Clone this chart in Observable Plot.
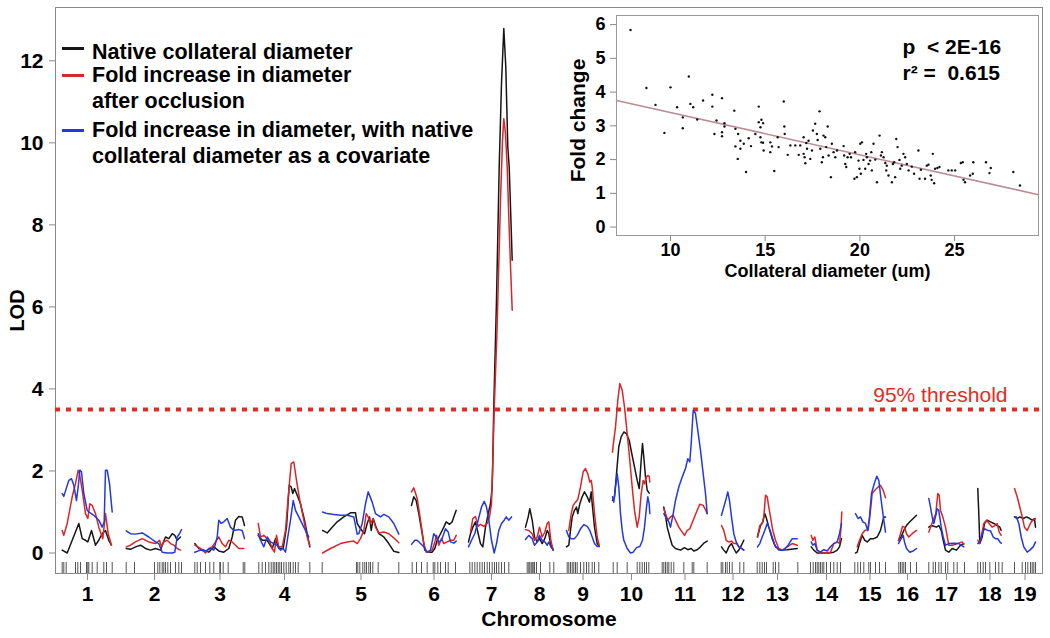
<!DOCTYPE html>
<html><head><meta charset="utf-8">
<script src="https://cdn.jsdelivr.net/npm/d3@7"></script>
<script src="https://cdn.jsdelivr.net/npm/@observablehq/plot@0.6"></script>
<style>
body{margin:0;background:#fff;}
#wrap{position:relative;width:1050px;height:638px;font-family:"Liberation Sans",Arial,sans-serif;}
#main,#inset{position:absolute;left:0;top:0;}
#inset{left:558px;top:8px;}
.entry{position:absolute;left:62px;font-weight:bold;font-size:21.5px;line-height:26px;color:#000;}
.sw{position:absolute;left:0;width:22px;height:3px;}
.lab{position:absolute;left:30px;top:0;white-space:nowrap;}
</style></head><body>
<div id="wrap"><div id="main"></div><div id="inset"></div><div id="legend"></div></div>
<script>
// ---------- main chart data ----------
const chrLabels = ["1","2","3","4","5","6","7","8","9","10","11","12","13","14","15","16","17","18","19"];
const chrStart = [7,71,139,203,267,356,413,470,511,557,607,666,702,755,799,843,873,922,959];
const chrEnd   = [57,127,190,255,344,401,459,498,544,595,652,689,742,787,830,861,909,947,980];
const genomeExtent = [0, 987];
const lodDomain = [-0.5, 13.3];
const lodTicks = [0, 2, 4, 6, 8, 10, 12];
const threshold = 3.5;
const thresholdLabel = "95% threshold";
const seriesNames = ["Native collateral diameter", "Fold increase in diameter after occlusion", "Fold increase in diameter, with native collateral diameter as a covariate"];
const seriesColors = ["#161616", "#d8262a", "#2438e0"];
const legendLines = [["Native collateral diameter"], ["Fold increase in diameter", "after occlusion"], ["Fold increase in diameter, with native", "collateral diameter as a covariate"]];

// marker positions (cumulative cM)
const markerPos = [6.7,8.3,10.7,20,22.3,25,31,32.3,33.3,36.7,41.7,48.3,51,56.7,
70.7,79,99,102.3,104.3,106.7,108.3,110,112.3,115,120,123.3,126,
139.3,141.7,145,150,154.3,158.3,164.3,165,167.7,172.7,187.7,189.3,
203.3,206.7,210,213.3,215.7,217.7,219.3,221,222.7,224.3,226,228.3,230.7,233.3,235,237.7,240,242.7,254.3,
266.7,301,302.3,304.3,307.3,309.3,311,313.3,315,317.3,322.7,343.3,
356.7,361,366,371.7,377.7,379.3,382.3,385,390,392.7,400,
414.3,416.7,419.3,421.7,424.3,426.7,429,431.7,434,436.7,439,441,443.3,446,449,453.3,
471.7,473.3,474.3,475.7,476.7,477.7,479,481,485,494.3,498.3,
511.7,513.3,515,516.7,518.3,520,521.7,525,528.3,531,533.3,536.7,539,543.3,
557.7,561.7,571.7,581.7,584.3,586.7,589,591,593.3,
606.7,608.3,610,611.7,613.3,615.7,618.3,628.3,636.7,638.3,651.7,
665.7,667.3,670,671.7,674,676.7,684.3,688.3,
701.7,704.3,706.7,709,711,717.7,720,723.3,742.3,
755,757.7,760,761.7,763.3,765,766.7,768.3,771,775,778.3,781.7,785,
799.3,802.3,805,808.3,813.3,815,820,824,830,
843.3,845,846.7,848.3,850,855,861,
873.3,877.7,880,883.3,885.7,890,892.3,898.3,901.7,909,
922.3,925,927.7,930,934.3,940,943.3,946.7,
959,966.7,970,972.3,975,976.7,978.3,980];

// LOD curves: per chromosome, flat list of position, LOD pairs
const nativeCurve = [
[6.7,.07,11.7,0,16.7,.31,23.3,.72,26.7,.35,30,.31,32.3,.27,36,.55,40,.19,43.3,.31,46.7,.47,50,.55,53.3,.31,56,.19],
[70.7,.11,75,.09,80,.15,85,.19,90,.11,95,.07,100,.11,105,.07,107.3,.23,110,.39,113.3,.35,116.7,.47,119.3,.43,121.7,.31,125,.39],
[139.3,.23,143.3,.11,148.3,.07,153.3,.02,158.3,.15,163.3,.05,168.3,.02,173.3,.11,176.7,.39,180,.8,183.3,.89,186.7,.88,189,.67],
[202.7,.43,206.7,.31,211.7,.31,216.7,.11,220,.35,223.3,.11,227.7,.11,231,.63,233.7,1.65,235.7,1.61,237.3,1.45,239,1.57,241.7,1.41,245,1.2,249,.8,252.3,.39,254.3,.15],
[267,.55,271.7,.49,276.7,.63,281.7,.76,288.3,.88,295,.98,300,.98,301.7,.72,305,.59,309,.47,311.7,.72,314,.88,315.7,.55,317.7,.84,320,.67,323.3,.47,328.3,.39,333.3,.23,338.3,.04,343.3,.01],
[356,1.16,358.3,1.37,360.7,1.28,363.3,.96,366.7,.47,369.3,.07,372.7,.02,376.7,.02,379.3,.11,381.7,.31,385,.47,388.3,.63,390.7,.76,394,.7,396.7,.76,398.3,.88,400.7,1.04],
[413,.27,415,.47,417.3,.63,420,.76,422.7,.47,425,.23,427.3,.15,430,.63,432.7,.96,435,1.2,436.7,1.61,437.5,2.5,438.2,3.5,441,6.17,443.7,9.41,446,11.45,448.3,12.79,450.3,11.85,452.3,9.9,453.7,9.41,455,8.44,456.7,7.14],
[470,.63,472.7,.88,474.3,1.08,476.7,.8,479,.39,481.7,.27,484,.35,486.7,.23,489.3,.35,491.7,.55,493.3,.47,495,.23,497.7,.07],
[511,.15,513.3,.19,515,.55,516.7,.88,519,1.04,521,1.12,522.3,.96,524.3,1.2,526.7,1.37,529,1.49,531.7,1.37,534,1.24,535.7,1.49,536.7,1.2,539,.63,541.7,.23,543.7,.16],
[557,1.28,559,1.37,561,1.93,563.3,2.59,565.7,2.83,568.3,2.95,571,2.91,573.7,2.75,576.3,2.42,579,2.1,581.7,1.77,583.7,1.57,585.7,2.26,587,2.67,588.3,2.34,590,1.85,591.7,1.53,593.7,1.46],
[608.3,1.12,610,.92,611.7,.63,614.3,.39,616.7,.19,620,.11,625,.07,629,.13,632.3,.08,635.7,.11,638.3,.05,641.7,.08,645,.15,648.3,.24,651.7,.29],
[666,.15,668.3,.07,670.7,0,673.3,.15,676,.23,678.3,.11,680.7,0,683.3,.07,686,.19,688.3,.31],
[702,.39,705,.67,707.3,.76,709.3,.96,711,.84,713.3,.63,716.7,.35,720,.15,725,.07,731.7,.08,741.7,.11],
[755.7,.15,758.3,.07,761.7,0,766.7,0,773.3,0,778.3,.02,781.7,.07,784,.15,786,.35],
[800,0,801.7,.02,804,.23,806.7,.43,809.3,.31,811.7,.27,815,.35,818.3,.35,821.7,.39,825,.55,828.3,.88,830,.88],
[843,.3,845.7,.4,848.3,.55,851,.67,854.3,.76,857.7,.84,861,.92],
[873.3,.63,875.7,.67,878.3,.65,881,.63,883.3,.67,885.7,.55,887.7,.31,890,.07,893.3,.02,896.7,.11,901,.07,905,.19,908.3,.23],
[922.3,1.57,923.3,.96,924.3,.23,926.7,.39,929,.72,931.7,.8,935,.76,938.3,.72,941.7,.67,944.3,.63,945.7,.55],
[959,.88,961.7,.84,964.3,.88,967.7,.84,971,.88,974.3,.84,976.7,.8,979,.84,980,.63]
];
const foldCurve = [
[6.7,.55,8.3,.43,11.7,.72,16.7,1.37,20,1.69,22.7,2.02,24,1.93,26.7,1.53,30,.96,32.3,.84,34.3,1.2,36.7,1.16,40,.96,43.3,.63,47.3,.35,50,.96,52.7,.47,56,.19],
[70.7,.15,75,.19,80,.27,86.7,.35,93.3,.27,100,.23,104,.31,106,.15,108.3,.27,111.7,.31,115,.23,118.3,.19,121.7,.11,125,.07],
[139.3,.19,145,.11,150,0,153.3,.11,156.7,.15,160,.27,163.3,.39,166.7,.23,170,.15,173.3,.31,176.7,.27,180,.19,183.3,.11,188.3,.11],
[202.7,.72,205,.39,208.3,.43,211.7,.35,214.3,.27,216.7,.11,219,.02,221,.43,223.3,.15,226.7,.15,230,.55,233.3,1.53,235.7,2.18,238.3,2.22,241,1.77,244.3,1.28,248.3,.8,251.7,.39,254.3,.19],
[267,0,275,.11,285,.23,291.7,.27,298.3,.29,301.7,.23,305,.35,308.3,.55,310.7,.96,312.7,.88,315,.72,317.7,.84,320,.63,323.3,.49,328.3,.51,333.3,.47,338.3,.37,343.3,.25],
[356,1.49,358.3,1.59,361.7,1.33,365,.8,368.3,.23,370.7,.02,373.3,.02,376.7,.07,379.3,.27,381,.43,383.3,.19,386,.35,388.3,.23,391.7,.27,395,.31,398.3,.31,400.7,.43],
[415,.51,417.3,.84,420,.89,422.7,.65,425,.7,428.3,.65,431.7,.72,434,.88,436,1.2,437.3,2.2,438.7,3.5,441.5,5.4,445,8.6,447,10.06,448.3,10.59,450,10.22,451.7,9.41,453.3,8.2,455,7,456.7,5.92],
[470,.57,473.3,.55,476.7,.47,479,.31,481.7,.39,484,.63,486.7,.39,489.3,.51,491.7,.72,493.3,.76,495.3,.31,497.7,.07],
[513.3,.55,515.7,.96,517.7,1.16,520,1.24,522.3,1.3,525,1.61,527.7,1.98,530,2.06,532.3,1.93,534.3,1.73,535.7,1.77,536.7,1.61,539,.96,541.7,.39,543.7,.19],
[557,2.46,557.7,2.63,560,3.07,562.3,3.72,564.3,4.13,566.7,3.97,569,3.56,571.7,2.91,574.3,2.26,576.7,1.61,579,1.04,581.7,.63,583.7,.88,585.7,1.45,587.7,1.77,589,1.69,590.7,1.85,592.3,1.89,593.7,1.87,594.3,1.73],
[608.3,1.08,610,.96,612.3,.8,615,.88,617.7,.92,620,.8,623.3,.63,626.7,.51,629,.43,631.7,.55,634.3,.59,637.7,.8,641,1,644.3,1.19,647.7,1.16,650.3,1.04,651.7,.96],
[666,.67,668.3,.55,670.7,.31,673.3,.27,676,.29,678.3,.23,680.7,.24,683.3,.15,686,.11,688.3,.07],
[702,.39,704.3,.67,706.7,.72,708.3,.88,710,1.41,711.7,1.37,713.3,1.12,715,.88,717.3,.55,720,.31,723.3,.11,726.7,.07,731.7,.15,736.7,.23,741.7,.19],
[755.7,.43,757.3,.31,759.3,.39,761.7,.07,765,0,770,0,775,.02,778.3,.23,781.7,.27,784,.23,785.3,.55,786.3,1],
[801.7,.15,804,.31,806.7,.47,809.3,.55,812.7,.57,815,1.04,816.7,1.45,819.3,1.53,822.7,1.61,825,1.65,827.7,1.53,830,1.35],
[843,.31,845,.47,847,.65,849,.63,851,.47,853.3,.39,856.7,.47,861,.55],
[873.3,.51,875.7,.67,878.3,.84,880.3,.96,882.3,1.45,883.7,1.41,885,1.04,887.3,.88,890,.63,893.3,.19,896.7,.19,900,.21,903.3,.24,906.7,.27,908.3,.21],
[922.3,.31,924,.23,925.7,.39,928.3,.72,931,.8,933.7,.72,936.7,.63,939.3,.67,941.7,.72,943.7,.51,945.7,.43],
[959,1.57,961.7,1.37,964.3,1.12,966.7,.88,969,.63,971.7,.55,974,.67,975.7,.76,977.7,.8,980,.84]
];
const covarCurve = [
[6.7,1.45,8.3,1.38,13.3,1.77,16,1.81,18.3,1.65,21,1.28,22.7,1.61,24.3,2.02,26,1.98,28.3,1.45,31.7,1.04,33.3,1,38.3,.92,43.3,.8,46.7,.63,48.7,.76,50,2.02,51.7,2.02,54,1.69,56.7,1],
[70.7,.54,75,.47,80,.46,86.7,.49,93.3,.39,100,.27,103.3,.23,106.7,.02,111.7,0,116.7,0,119.3,.02,121.7,.39,124,.47,126,.57],
[139.3,.02,145,.07,150,.05,155,.11,158.3,.07,161.7,.39,163.3,.8,165.7,.72,168.3,.76,171.7,.84,175,.63,178.3,.55,183.3,.57,186.7,.55,189,.35],
[202.7,.47,205,.31,208.3,.15,211.7,.39,215,.27,218.3,.23,221.7,.19,225,.07,227.7,.11,230,.02,232.3,.39,235,.8,237.7,1.28,240,1.04,243.3,.88,248.3,.63,253.3,.39],
[267,1,271.7,.96,278.3,.94,285,.92,291.7,.92,298.3,.88,301.7,.46,303.3,.47,306.7,.72,310,1.2,312.7,1.49,316.7,1.24,320,.96,325,.88,328.3,.94,333.3,.88,338.3,.72,343.3,.46],
[356,.21,359.3,.31,361.7,.31,365,.23,368.3,.15,371.7,.02,375,.07,378.3,.47,380.7,.39,383.3,.27,386,.31,390,.59,392.7,.51,395,.27,398.3,.24,400.7,.29],
[413,.15,416,.31,419.3,.47,422.7,.8,426,1.12,428.7,1.26,431,1.12,433.3,.8,436,.31,438.7,0,441,.23,443.3,.55,446,.72,448.7,.8,450.7,.88,453.3,.8,456,.88],
[470,.33,473.3,.43,476.7,.35,479,.19,481.7,.27,484,.43,486.7,.31,489.3,.27,491.7,.19,493.3,.27,495.3,.15,497.7,.07],
[511,.55,513.3,.39,515.7,.35,519,.35,521.7,.43,525,.59,528.3,.69,531.7,.65,534.3,.55,536.7,.39,539,.23,541.7,.16,543.7,.16],
[557,1.37,558.3,1.24,560,1.61,561.7,1.93,563.3,1.61,565,.96,566.7,.55,568.3,.31,571.7,.11,575,0,577.7,.02,581,.13,584.3,.16,587,.31,589,.63,591,1.12,592.3,1.37,593.7,1.2,594.3,.96],
[608.3,.96,611,.84,613.3,.76,615,.63,617.7,.96,620,1.28,623.3,1.61,626.7,1.85,630,2.06,632.3,2.3,634.3,2.22,635.7,2.67,637.7,3.48,640,3.4,642.3,2.99,645,2.5,647.7,1.93,650,1.45,651.7,.96],
[666,.92,668.3,1.12,670.7,1.33,672.3,1.49,674,1.28,676,.88,678.3,.47,680.7,.27,683.3,.15,686,.11,688.3,.07],
[702,.15,704.3,.23,706.7,.39,709.3,.55,711.7,.72,714,.59,716.7,.39,719.3,.19,723.3,.07,728.3,.07,732.7,.19,736.7,.35,741.7,.35],
[755.7,.27,757.3,.19,759.3,.23,761.7,.07,765,.02,768.3,.08,771.7,.05,775,.15,778.3,.23,781.7,.27,784,.47,786,.72],
[800,.96,802.7,.84,805,.88,807.3,.76,810,.72,812.3,.55,814,.88,816,1.45,818.7,1.69,821.3,1.87,823.3,1.77,825.7,1.28,828.3,.8,830,.51],
[843,.23,845.7,.35,847.7,.43,849,.27,851,.11,854.3,.02,857.7,.05,861,.11],
[873.3,1.33,875,1.12,876.7,.88,878.3,.72,880,.88,881.7,1.08,883.3,1.04,885.7,.63,887.7,.39,890,.19,893.3,.23,898.3,.24,903.3,.23,908.3,.15],
[922.3,.23,924.3,.27,926.7,.47,929,.59,932.3,.55,935,.54,937.7,.39,940,.35,942.3,.35,944.3,.27,945.7,.24],
[959,.88,961,.88,963.3,.72,965.7,.39,968.3,.15,971.7,.02,974.3,.07,977.7,.15,980,.27]
];

// ---------- inset data ----------
const diameter = [7.89,8.73,9.21,9.68,10.0,10.35,10.65,10.65,10.97,11.05,11.2,11.41,11.72,12.21,12.21,12.32,12.43,12.72,12.72,12.72,12.85,12.85,13.37,13.43,13.43,13.57,13.55,13.69,13.69,13.87,13.99,14.13,14.25,14.48,14.66,14.66,14.75,14.75,14.8,14.8,14.89,14.89,14.92,15.27,15.27,15.36,15.48,15.66,15.71,15.98,16.01,16.03,16.19,16.33,16.59,16.77,16.85,17.03,17.03,17.08,17.12,17.17,17.21,17.29,17.38,17.47,17.52,17.64,17.73,17.77,17.87,17.91,17.99,18.05,18.08,18.17,18.22,18.3,18.35,18.47,18.52,18.61,18.7,18.79,19.14,19.17,19.23,19.28,19.35,19.46,19.53,19.71,19.75,19.84,19.93,19.98,20.02,20.05,20.11,20.19,20.28,20.33,20.37,20.46,20.54,20.6,20.63,20.72,20.81,20.9,21.04,21.11,21.16,21.25,21.34,21.39,21.42,21.51,21.69,21.74,21.81,21.86,21.92,21.99,22.09,22.13,22.21,22.3,22.39,22.48,22.57,22.74,22.86,23.09,23.15,23.22,23.44,23.53,23.62,23.74,23.79,23.85,23.92,23.97,24.09,24.2,24.67,24.85,25.03,25.33,25.43,25.47,25.55,25.82,25.99,25.96,26.66,26.84,26.91,28.1,28.45];
const foldChange = [5.84,4.12,3.62,2.79,4.14,3.55,3.25,2.93,4.46,3.65,3.55,3.19,3.75,3.92,3.57,2.76,3.16,3.82,2.81,2.69,3.08,2.98,3.45,2.91,2.39,2.76,2.02,2.56,2.32,2.47,1.63,2.63,2.4,2.76,3.57,3.11,2.96,2.66,3.18,2.51,3.08,2.5,2.27,2.51,2.22,2.39,1.66,2.66,2.37,3.72,2.98,2.76,2.14,2.42,2.42,2.14,2.42,2.66,2.17,2.07,1.89,2.49,2.32,2.56,2.02,2.27,2.86,3.06,2.76,2.58,3.43,2.32,1.92,2.07,2.71,2.66,2.37,2.98,2.12,1.48,2.47,2.22,2.07,2.27,2.4,2.12,1.87,1.78,2.07,2.17,2.07,1.43,2.22,1.48,1.97,1.73,2.47,1.58,2.51,1.99,1.73,2.17,2.07,1.87,1.97,2.22,1.68,2.47,2.0,1.33,2.71,2.12,2.22,2.07,1.9,1.68,1.82,1.53,1.33,1.87,1.92,1.48,2.61,2.37,1.99,1.73,1.82,2.17,2.07,1.87,1.68,1.79,1.58,2.27,1.43,1.7,1.43,1.82,1.85,1.53,1.4,2.17,1.3,1.73,1.75,1.78,1.68,1.68,1.68,1.9,1.92,1.4,1.33,1.53,1.92,1.58,1.92,1.6,1.75,1.63,1.23];
const diamDomain = [7.15, 29.43];
const foldDomain = [-0.25, 6.27];
const diamTicks = [10, 15, 20, 25];
const foldTicks = [0, 1, 2, 3, 4, 5, 6];
const fitIntercept = 4.645, fitSlope = -0.1252;
const insetNotes = ["p\u00a0 < 2E-16", "r\u00b2 =\u00a0 0.615"];

// ---------- build main ----------
const curveSets = [nativeCurve, foldCurve, covarCurve];
const rows = [];
curveSets.forEach((set, s) => set.forEach((flat, c) => {
  for (let k = 0; k < flat.length; k += 2) rows.push({series: seriesNames[s], key: s + "-" + c, pos: flat[k], lod: flat[k + 1]});
}));
const chrCenters = chrStart.map((s, i) => (s + chrEnd[i]) / 2);
const FONT = "Liberation Sans, Arial, sans-serif";

const main = Plot.plot({
  width: 1050, height: 638, marginLeft: 55, marginRight: 8, marginTop: 7, marginBottom: 65,
  style: {fontFamily: FONT, fontWeight: "bold", fontSize: "21px", background: "transparent", color: "#000"},
  x: {domain: genomeExtent},
  y: {domain: lodDomain},
  color: {domain: seriesNames, range: seriesColors},
  marks: [
    Plot.frame({stroke: "#888"}),
    Plot.ruleX(markerPos, {x: d => d, insetTop: 555, stroke: "#555", strokeWidth: 1}),
    Plot.ruleY([threshold], {stroke: "#e42b22", strokeWidth: 4, strokeDasharray: "5,6"}),
    Plot.text([thresholdLabel], {y: () => threshold, text: d => d, frameAnchor: "right", textAnchor: "end", lineAnchor: "middle", dx: -35, dy: -14, fill: "#e42b22", fontWeight: "normal", fontSize: 21}),
    Plot.line(rows, {x: "pos", y: "lod", z: "key", stroke: "series", strokeWidth: 1.5}),
    Plot.axisY(lodTicks, {tickSize: 6, tickPadding: 6, stroke: "#888", label: null}),
    Plot.axisX(chrCenters, {tickSize: 7, tickPadding: 6, stroke: "#888", label: null, tickFormat: d => chrLabels[chrCenters.indexOf(d)]}),
    Plot.text(["LOD"], {text: d => d, frameAnchor: "left", textAnchor: "middle", lineAnchor: "middle", rotate: -90, dx: -38, dy: 20, fontSize: 20}),
    Plot.text(["Chromosome"], {text: d => d, frameAnchor: "bottom", textAnchor: "middle", lineAnchor: "middle", dy: 46, fontSize: 21})
  ]
});
document.getElementById("main").appendChild(main);

// ---------- inset ----------
const fitLine = diamDomain.map(x => ({x, y: fitIntercept + fitSlope * x}));
const inset = Plot.plot({
  width: 482, height: 280, marginLeft: 58, marginRight: 2, marginTop: 7, marginBottom: 53,
  style: {fontFamily: FONT, fontWeight: "bold", fontSize: "18px", background: "transparent", color: "#000"},
  x: {domain: diamDomain},
  y: {domain: foldDomain},
  marks: [
    Plot.frame({stroke: "#999"}),
    Plot.line(fitLine, {x: "x", y: "y", stroke: "#bb8e95", strokeWidth: 1.6}),
    Plot.dot(foldChange, {x: diameter, y: foldChange, r: 1.2, fill: "#111", stroke: null}),
    Plot.axisX(diamTicks, {tickSize: 6, tickPadding: 2, stroke: "#888", label: null}),
    Plot.axisY(foldTicks, {tickSize: 6, tickPadding: 5, stroke: "#888", label: null}),
    Plot.text(["Collateral diameter (um)"], {text: d => d, frameAnchor: "bottom", textAnchor: "middle", lineAnchor: "middle", dy: 36, fontSize: 18}),
    Plot.text(["Fold change"], {text: d => d, frameAnchor: "left", textAnchor: "middle", lineAnchor: "middle", rotate: -90, dx: -38, dy: -5, fontSize: 21}),
    Plot.text([insetNotes.join("\n")], {text: d => d, frameAnchor: "top-left", textAnchor: "start", lineAnchor: "top", dx: 286, dy: 20, lineHeight: 1.25, fontSize: 21})
  ]
});
document.getElementById("inset").appendChild(inset);

// ---------- legend ----------
const legendTops = [39, 62, 117];
const swatchTops = [8, 12, 12];
const leg = document.getElementById("legend");
legendLines.forEach((lines, i) => {
  const e = document.createElement("div");
  e.className = "entry";
  e.style.top = legendTops[i] + "px";
  const sw = document.createElement("div");
  sw.className = "sw";
  sw.style.top = swatchTops[i] + "px";
  sw.style.background = seriesColors[i];
  const lab = document.createElement("div");
  lab.className = "lab";
  lab.innerHTML = lines.map(t => t.replace(/&/g, "&amp;")).join("<br>");
  e.appendChild(sw); e.appendChild(lab);
  leg.appendChild(e);
});
</script>
</body></html>
